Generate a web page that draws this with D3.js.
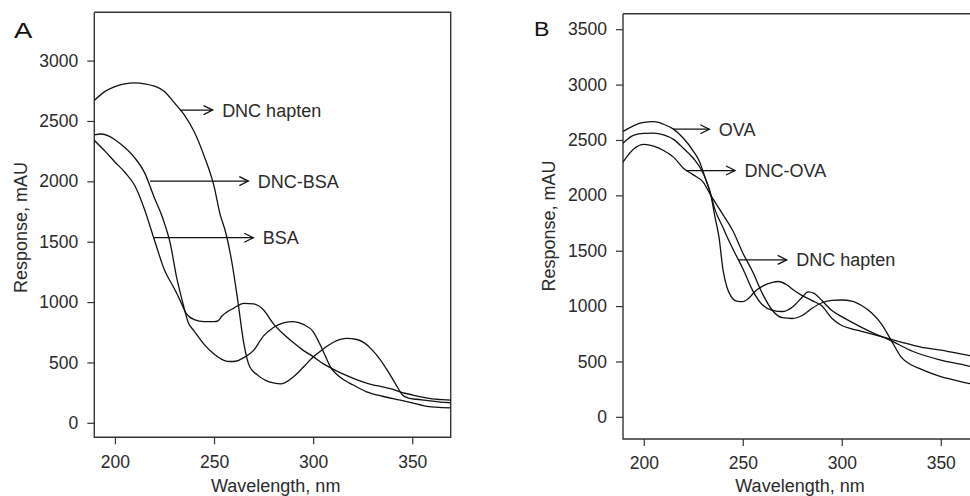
<!DOCTYPE html>
<html>
<head>
<meta charset="utf-8">
<script src="https://cdn.jsdelivr.net/npm/d3@7/dist/d3.min.js"></script>
<style>
  html, body { margin: 0; padding: 0; background: #fff; }
  svg { display: block; }
  text { font-family: "Liberation Sans", Arial, Helvetica, sans-serif; fill: #2a2a2a; }
</style>
</head>
<body>
<svg id="chart" width="970" height="496"></svg>
<script>
// ---------------- DATA ----------------
// Panel A
const aTicksX = [200, 250, 300, 350];
const aTicksY = [0, 500, 1000, 1500, 2000, 2500, 3000];

const aHaptenW = [189.6,195,200,205,210,215,220,225,230,235,240,245,250,253,256,259,262,265,268,272,276,280,284,290,295,300,305,310,317,322,326,330,334,338,342,345,348,352,358,364,369.4];
const aHaptenV = [2670,2745,2785,2808,2815,2808,2788,2745,2650,2550,2410,2210,1960,1730,1570,1330,1010,660,464,395,352,330,322,380,460,545,610,665,699,690,660,600,520,420,310,232,205,195,184,172,166];

const aBsaW = [189.6,195,200,205,210,215,220,225,230,233,236,240,245,250,252,254,256,260,265,270,275,280,285,290,295,300,305,310,315,320,325,330,335,340,345,350,355,360,365,369.4];
const aBsaV = [2340,2250,2160,2075,1965,1765,1510,1265,1110,1010,905,855,838,838,845,885,912,950,990,985,935,820,735,665,600,548,490,445,405,370,340,315,298,278,250,232,212,198,192,188];

const aDncBsaW = [189.6,193,197,200,205,210,215,220,224,228,231,234,237,240,245,250,255,258,261,265,270,275,280,285,290,295,300,303,306,309,312,316,320,327,335,344,350,356,362,369.4];
const aDncBsaV = [2384,2392,2375,2345,2280,2195,2070,1860,1700,1480,1215,1010,830,760,650,570,518,508,510,540,600,720,790,828,838,815,755,665,560,455,400,350,315,257,220,188,165,141,130,124];

const aLabels = ["DNC hapten", "DNC-BSA", "BSA"];
const aArrowV = [2590, 2002, 1533];
const aArrowW0 = [232.8, 217.7, 219.4];
const aArrowW1 = [249.3, 267.3, 269.8];

// Panel B
const bTicksX = [200, 250, 300, 350];
const bTicksY = [0, 500, 1000, 1500, 2000, 2500, 3000, 3500];

const bOvaW = [189.5,195,200,205,210,215,220,225,228,231,234,236,238,240,242,244,247,250,253,256,260,265,268,272,276,280,285,290,295,300,305,310,320,330,340,350,360,367.3];
const bOvaV = [2576,2630,2658,2665,2642,2598,2515,2400,2310,2160,1990,1800,1620,1330,1170,1090,1045,1040,1070,1130,1180,1215,1222,1195,1140,1095,1050,1000,890,825,795,772,725,675,630,603,568,545];

const bHaptenW = [189.5,195,200,205,210,215,220,225,230,233,236,240,243,246,250,255,260,265,270,275,280,283,286,290,295,300,305,310,316,324,336,350,360,367.3];
const bHaptenV = [2471,2543,2560,2561,2545,2505,2425,2335,2200,2060,1869,1710,1590,1480,1340,1140,1010,962,951,990,1080,1128,1115,1050,960,905,855,808,756,695,590,513,475,445];

const bDncOvaW = [189.5,195,200,205,210,215,220,225,230,234,237,240,245,250,255,260,265,270,275,280,285,290,295,300,305,310,315,320,325,330,335,340,345,350,355,360,367.3];
const bDncOvaV = [2300,2420,2460,2445,2405,2345,2245,2185,2120,1995,1910,1825,1680,1480,1310,1110,960,895,888,915,980,1030,1052,1055,1045,1005,940,840,690,540,470,430,395,364,340,318,290];

const bLabels = ["OVA", "DNC-OVA", "DNC hapten"];
const bArrowV = [2597, 2224, 1417];
const bArrowW0 = [214.9, 221.7, 247.7];
const bArrowW1 = [233.1, 246.1, 272.2];

// ---------------- DRAW ----------------
const svg = d3.select("#chart");

function panel(cfg) {
  const { left, top, right, bottom, xDomain, yDomain, ticksX, ticksY, series, labels, arrowV, arrowW0, arrowW1, letter, letterX, letterY, letterSize, letterScale, yTitleX, yTitleY, xTitleX, xTitleY, id, rightBorder } = cfg;
  const x = d3.scaleLinear().domain(xDomain).range([left, right]);
  const y = d3.scaleLinear().domain(yDomain).range([bottom, top]);
  const g = svg.append("g");

  g.append("clipPath").attr("id", "clip" + id)
    .append("rect").attr("x", left).attr("y", top).attr("width", right - left).attr("height", bottom - top);

  // axes
  const ax = g.append("g").attr("transform", `translate(0,${bottom})`)
    .call(d3.axisBottom(x).tickValues(ticksX).tickSize(7).tickPadding(11).tickFormat(d3.format("d")));
  const ay = g.append("g").attr("transform", `translate(${left},0)`)
    .call(d3.axisLeft(y).tickValues(ticksY).tickSize(7).tickPadding(9).tickFormat(d3.format("d")));
  [ax, ay].forEach(a => {
    a.select(".domain").remove();
    a.selectAll(".tick line").attr("stroke", "#333").attr("stroke-width", 1.2);
    a.selectAll(".tick text").attr("font-size", 17.5).attr("fill", "#2a2a2a")
      .attr("font-family", '"Liberation Sans", Arial, Helvetica, sans-serif');
  });

  // frame
  const frame = d3.path();
  frame.moveTo(left, top); frame.lineTo(right, top);
  if (rightBorder) frame.lineTo(right, bottom); else frame.moveTo(right, bottom);
  frame.lineTo(left, bottom); frame.lineTo(left, top);
  g.append("path").attr("d", frame.toString()).attr("fill", "none").attr("stroke", "#333").attr("stroke-width", 1.4);

  // curves
  const line = d3.line().x(d => x(d[0])).y(d => y(d[1])).curve(d3.curveMonotoneX);
  const cg = g.append("g").attr("clip-path", `url(#clip${id})`);
  series.forEach(s => {
    const pts = s[0].map((w, i) => [w, s[1][i]]);
    cg.append("path").attr("d", line(pts)).attr("fill", "none")
      .attr("stroke", "#111").attr("stroke-width", 1.3).attr("stroke-linejoin", "round");
  });

  // annotation arrows
  labels.forEach((lab, i) => {
    const yy = y(arrowV[i]), x0 = x(arrowW0[i]), x1 = x(arrowW1[i]);
    g.append("line").attr("x1", x0).attr("x2", x1).attr("y1", yy).attr("y2", yy)
      .attr("stroke", "#111").attr("stroke-width", 1.3);
    g.append("path").attr("d", `M${x1 - 9},${yy - 4.5}L${x1},${yy}L${x1 - 9},${yy + 4.5}`)
      .attr("fill", "none").attr("stroke", "#111").attr("stroke-width", 1.3);
    g.append("text").attr("x", x1 + 9.5).attr("y", yy).attr("dy", "0.36em")
      .attr("font-size", 18).text(lab);
  });

  // titles
  g.append("text").attr("x", xTitleX).attr("y", xTitleY).attr("text-anchor", "middle")
    .attr("font-size", 18).text("Wavelength, nm");
  g.append("text").attr("transform", `translate(${yTitleX},${yTitleY}) rotate(-90)`)
    .attr("text-anchor", "middle").attr("font-size", 18).text("Response, mAU");
  g.append("text").attr("transform", `translate(${letterX},${letterY}) scale(${letterScale},1)`)
    .attr("font-size", letterSize).style("fill", "#111").text(letter);
}

panel({
  id: "A", left: 94.3, top: 12.3, right: 450.7, bottom: 437.3,
  xDomain: [189.6, 369.4], yDomain: [-120, 3400],
  ticksX: aTicksX, ticksY: aTicksY,
  series: [[aHaptenW, aHaptenV], [aBsaW, aBsaV], [aDncBsaW, aDncBsaV]],
  labels: aLabels, arrowV: aArrowV, arrowW0: aArrowW0, arrowW1: aArrowW1,
  letter: "A", letterX: 14, letterY: 37.5, letterSize: 22, letterScale: 1.25,
  yTitleX: 26.5, yTitleY: 227.5, xTitleX: 275.7, xTitleY: 492, rightBorder: true
});

panel({
  id: "B", left: 623, top: 13.7, right: 975, bottom: 439,
  xDomain: [189.5, 367.3], yDomain: [-200, 3640],
  ticksX: bTicksX, ticksY: bTicksY,
  series: [[bOvaW, bOvaV], [bHaptenW, bHaptenV], [bDncOvaW, bDncOvaV]],
  labels: bLabels, arrowV: bArrowV, arrowW0: bArrowW0, arrowW1: bArrowW1,
  letter: "B", letterX: 534, letterY: 36, letterSize: 21, letterScale: 1.1,
  yTitleX: 554.5, yTitleY: 226, xTitleX: 800, xTitleY: 491.5, rightBorder: false
});
</script>
</body>
</html>
